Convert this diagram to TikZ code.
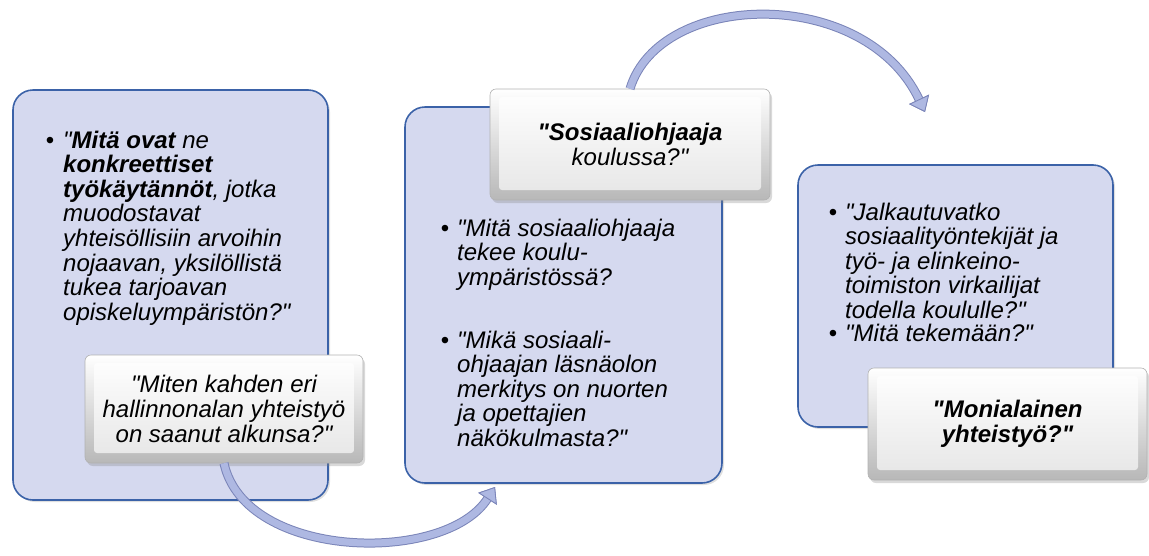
\documentclass[tikz,border=0pt]{standalone}
\usepackage{fontspec}
\setmainfont{Liberation Sans}[Ligatures=TeXOff]
\usetikzlibrary{positioning,shadows,arrows.meta}
\definecolor{boxblue}{HTML}{D5D9EF}
\definecolor{boxedge}{HTML}{3B62A8}
\definecolor{flowfill}{HTML}{AEB8E2}
\definecolor{flowedge}{HTML}{7A84B8}
\newcommand{\qmark}{\symbol{34}}

\begin{document}
\begin{tikzpicture}[x=1pt,y=-1pt]
\tikzstyle{stage}=[rectangle, rounded corners=20pt, draw=boxedge, line width=1.6pt, fill=boxblue, inner sep=0pt, drop shadow={opacity=0.25, shadow xshift=2pt, shadow yshift=-2pt}]
\tikzstyle{topic}=[rectangle, rounded corners=6pt, draw=black!30, line width=0.6pt, top color=white, bottom color=black!28, inner sep=0pt, align=center, font=\itshape\fontsize{24}{24.6}\selectfont, drop shadow={opacity=0.3, shadow xshift=2pt, shadow yshift=-3pt}, path picture={\shade[top color=white, bottom color=black!10, rounded corners=3pt] ([shift={(9pt,-8pt)}]path picture bounding box.north west) rectangle ([shift={(-9pt,10pt)}]path picture bounding box.south east);}]
\tikzstyle{txt}=[inner sep=0pt, align=left, anchor=north west, font=\itshape\fontsize{24}{24.6}\selectfont]
\tikzstyle{dot}=[inner sep=0pt, anchor=base, font=\fontsize{24}{24.6}\selectfont]
\tikzstyle{tip}=[-{Triangle[length=14pt, width=22pt, line width=0.8pt, color=flowedge, fill=flowfill]}]
\tikzstyle{flow}=[draw=flowfill, line width=7pt, tip, preaction={draw=flowedge, line width=9pt, tip}]
\useasboundingbox (0,0) rectangle (1149,555);

	\node[stage, minimum width=315pt, minimum height=410pt] (stage1) at (170.5,295) {};
	\node[stage, minimum width=317pt, minimum height=376pt] (stage2) at (563.5,295) {};
	\node[stage, minimum width=315pt, minimum height=262pt] (stage3) at (955.5,296) {};

	\node[dot] (b1) at (50,148) {\textbullet};
	\node[txt] (q1) at (63,130.5) {\qmark\textbf{Mitä ovat} ne\\\textbf{konkreettiset}\\\textbf{työkäytännöt}, jotka\\muodostavat\\yhteisöllisiin arvoihin\\nojaavan, yksilöllistä\\tukea tarjoavan\\opiskeluympäristön?\qmark};

	\node[dot] (b2a) at (445,236) {\textbullet};
	\node[txt] (q2a) at (457,218.5) {\qmark Mitä sosiaaliohjaaja\\tekee koulu-\\ympäristössä?};
	\node[dot] (b2b) at (445,348) {\textbullet};
	\node[txt] (q2b) at (457,330.5) {\qmark Mikä sosiaali-\\ohjaajan läsnäolon\\merkitys on nuorten\\ja opettajien\\näkökulmasta?\qmark};

	\node[dot] (b3a) at (833,220) {\textbullet};
	\node[txt] (q3a) at (845,202.5) {\qmark Jalkautuvatko\\sosiaalityöntekijät ja\\työ- ja elinkeino-\\toimiston virkailijat\\todella koululle?\qmark};
	\node[dot] (b3b) at (833,341) {\textbullet};
	\node[txt] (q3b) at (845,323.5) {\qmark Mitä tekemään?\qmark};

	\node[topic, minimum width=278pt, minimum height=108pt] (topic1) at (224,409) {\qmark Miten kahden eri\\hallinnonalan yhteistyö\\on saanut alkunsa?\qmark};
	\node[topic, minimum width=280pt, minimum height=111pt] (topic2) at (630,144.5) {\textbf{\qmark Sosiaaliohjaaja}\\koulussa?\qmark};
	\node[topic, minimum width=279pt, minimum height=112pt] (topic3) at (1007.5,424) {\textbf{\qmark Monialainen}\\\textbf{yhteistyö?\qmark}};

	\coordinate (in2) at (495,487);
	\coordinate (in3) at (925,112);

	\draw[flow] (topic1.south) .. controls (245,560) and (445,565) .. (in2);
	\draw[flow] (topic2.north) .. controls (660,-10) and (865,-15) .. (in3);

\end{tikzpicture}
\end{document}
